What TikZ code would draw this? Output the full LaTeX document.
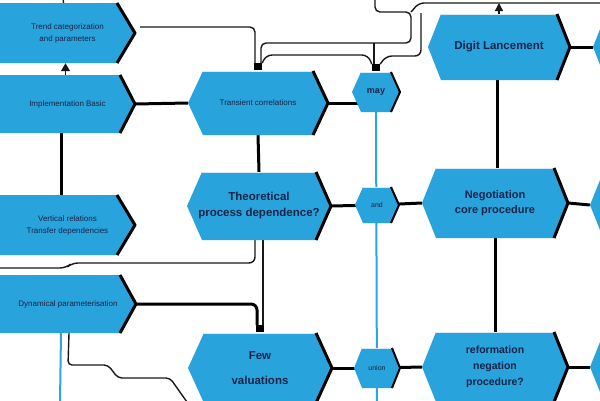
\documentclass[tikz,border=0pt]{standalone}
\usepackage{fontspec}
\setmainfont{Liberation Sans}
\usetikzlibrary{arrows.meta}
\pgfdeclarelayer{bg}
\pgfsetlayers{bg,main}
\definecolor{boxblue}{HTML}{29A3DC}
\definecolor{txt}{HTML}{16244A}
\definecolor{lnblue}{HTML}{2AA5DF}
\tikzset{
  edge/.style={black,line width=3pt,line join=round},
  sedge/.style={black,line width=2pt,line join=round},
  lbl/.style={shape=rectangle,inner sep=0pt,align=center,text=txt},
  thickln/.style={black,line width=3pt},
  thinln/.style={black!90,line width=1.4pt},
  blueln/.style={lnblue,line width=2pt},
  jsq/.style={fill=black,minimum width=8pt,minimum height=7pt,inner sep=0pt,shape=rectangle},
}
% name cx cy hw hh indent font text edgestyle
\newcommand\hexbox[9]{%
  \fill[boxblue] ({#2-#4},#3) -- ({#2-#4+#6},{#3-#5}) -- ({#2+#4-#6},{#3-#5}) -- ({#2+#4},#3) -- ({#2+#4-#6},{#3+#5}) -- ({#2-#4+#6},{#3+#5}) -- cycle;
  \draw[white!80!boxblue,line width=1pt] ({#2-#4+#6},{#3-#5+0.5}) -- ({#2+#4-#6},{#3-#5+0.5});
  \draw[#9] ({#2+#4-#6},{#3-#5}) -- ({#2+#4},#3) -- ({#2+#4-#6},{#3+#5});
  \node[lbl,minimum width={2*#4*1pt},minimum height={2*#5*1pt},font=#7] (#1) at (#2,#3) {#8};
}
% name ytop ybot xs xtip font text
\newcommand\arrbox[7]{%
  \fill[boxblue] (0,#2) -- (#4,#2) -- (#5,{(#2+#3)/2}) -- (#4,#3) -- (0,#3) -- cycle;
  \draw[edge] (#4,#2) -- (#5,{(#2+#3)/2}) -- (#4,#3);
  \node[lbl,minimum width={#5*1pt},minimum height={(#3-#2)*1pt},font=#6] (#1) at ({#5/2},{(#2+#3)/2}) {#7};
}
\begin{document}
\begin{tikzpicture}[x=1pt,y=-1pt]
\useasboundingbox (0,0) rectangle (600,400);
\begin{pgfonlayer}{bg}
\fill[white] (0,0) rectangle (600,400);
\end{pgfonlayer}
\clip (0,0) rectangle (600,400);

% left boxes
\arrbox{L1}{3}{63}{117}{135}{\fontsize{8}{12}\selectfont}{Trend categorization\\and parameters}
\arrbox{L2}{75}{133}{120}{135}{\fontsize{8}{12}\selectfont}{Implementation Basic}
\arrbox{L3}{195}{255}{117}{135}{\fontsize{8}{12}\selectfont}{Vertical relations\\Transfer dependencies}
\arrbox{L4}{275}{333}{120}{136}{\fontsize{8}{12}\selectfont}{Dynamical parameterisation}

% middle hexagons
\hexbox{M1}{258}{103}{70}{32}{15}{\fontsize{8}{12}\selectfont}{Transient correlations}{edge}
\hexbox{M2}{259}{206}{72}{34}{15}{\fontsize{11.5}{16}\selectfont\bfseries}{Theoretical\\process dependence?}{edge}
\hexbox{M3}{260}{368}{72}{35}{16}{\fontsize{11.5}{25}\selectfont\bfseries}{Few\\valuations}{edge}

% small hexagons
\hexbox{S1}{376}{92}{24}{20}{9}{\fontsize{9}{11}\selectfont\bfseries}{may}{sedge}
\hexbox{S2}{377}{205}{22}{18}{8}{\fontsize{7}{9}\selectfont}{and}{sedge}
\hexbox{S3}{377}{368}{23}{20}{8}{\fontsize{7}{9}\selectfont}{union}{sedge}

% right hexagons
\hexbox{R1}{499}{47}{71}{33}{13}{\fontsize{11.5}{14}\selectfont\bfseries}{Digit Lancement}{edge}
\hexbox{R2}{495}{203}{73}{35}{14}{\fontsize{11}{15}\selectfont\bfseries}{Negotiation\\core procedure}{edge}
\hexbox{R3}{495}{367}{73}{35}{14}{\fontsize{10.5}{16}\selectfont\bfseries}{reformation\\negation\\procedure?}{edge}

% partial hexagons at the right edge
\hexbox{F1}{664}{47}{71}{33}{13}{\small}{}{edge}
\hexbox{F2}{663}{205}{73}{35}{14}{\small}{}{edge}
\hexbox{F3}{663}{367}{73}{35}{14}{\small}{}{edge}

% junction squares
\node[jsq] (J1) at ([yshift=4pt]M1.north) {};
\node[jsq] (J2) at ([yshift=4pt]S1.north) {};
\node[jsq] (J3) at ([yshift=4pt]M3.north) {};

% free ends and waypoints
\coordinate (t0) at (63,-2);
\coordinate (top1) at (375,-2);
\coordinate (top2) at (602,3);
\coordinate (w43) at (411,43);
\coordinate (w12) at (411,12);
\coordinate (left3) at (-2,268);
\coordinate (bl1) at (60,402);
\coordinate (bl2) at (187,402);
\coordinate (bl3) at (377,402);

\begin{pgfonlayer}{bg}
% left column
\draw[thinln,-{Triangle[width=9pt,length=8pt]}] ([xshift=-2pt]L2.north) -- ([xshift=-2pt]L1.south);
\draw[thickln] ([xshift=-6pt]L2.south) -- ([xshift=-6pt]L3.north);
\draw[thinln] ([xshift=-4pt]L1.north) -- (t0);
\draw[thickln] (L2.east) -- (M1.west);
% top routing
\draw[thinln,rounded corners=5] ([shift={(5,-6)}]L1.east) -| ([xshift=-3pt]J1.north);
\draw[thinln,rounded corners=5] ([xshift=3pt]J1.north) |- (w43) -- (w12) -- (375,12) -- (top1);
\draw[thinln,rounded corners=5] (w12) -- (419,3) -- (top2);
\draw[thinln,rounded corners=6] (J1.north east) -- (266,55) -- (368,55) -- (J2.north west);
\draw[thinln] ([xshift=-2pt]J2.north) -- (374,43);
\draw[thinln,rounded corners=6] (J2.north east) -- (386,56) -- (421,56) -- (421,13);
\draw[thinln,-{Triangle[width=8pt,length=8pt]}] (R1.north) -- (R1.north |- top2);
% horizontal rows
\draw[thickln] (M1.east) -- (M1.east -| S1.center);
\draw[thickln] (M2.east) -- (S2.center);
\draw[thickln] (S2.center) -- (R2.west);
\draw[thickln] (M3.east) -- (S3.center);
\draw[thickln] (S3.center) -- (R3.west);
\draw[thickln] (R1.east) -- (F1.west);
\draw[thickln] (R2.east) -- (F2.west);
\draw[thickln] (R3.east) -- (F3.west);
% verticals
\draw[thickln] (M1.south) -- (M2.north);
\draw[thickln] ([xshift=-2pt]R1.south) -- ([xshift=2pt]R2.north);
\draw[thickln] (R2.south) -- (R3.north);
\draw[blueln] (S1.south) -- (bl3);
\draw[thinln,rounded corners=6] ([xshift=-4pt]M2.south) |- (72,263) -- (66,268) -- (left3);
\draw[thinln] ([xshift=4pt]M2.south) -- ([xshift=3pt]J3.north);
\draw[thickln,rounded corners=6] (L4.east) -| ([xshift=-3pt]J3.north);
% bottom left
\draw[blueln] ([xshift=-7pt]L4.south) -- (bl1);
\draw[thinln,rounded corners=4] ([xshift=1pt]L4.south) -- (68,365) -- (108,365) -- (118,378) -- (170,378) -- (bl2);
\end{pgfonlayer}
\end{tikzpicture}
\end{document}
